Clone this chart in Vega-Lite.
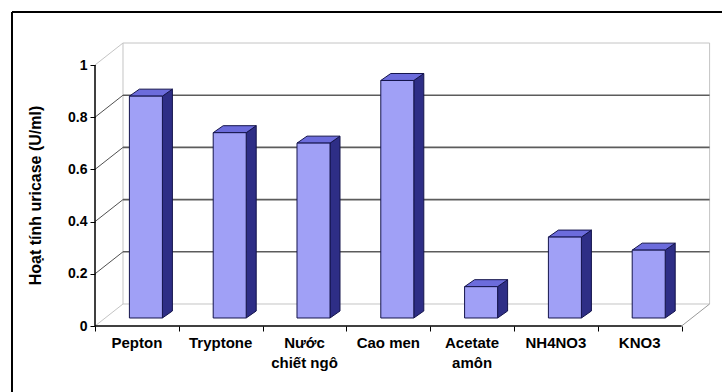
{
  "$schema": "https://vega.github.io/schema/vega-lite/v6.json",
  "width": 631,
  "height": 314,
  "autosize": {"type": "none"},
  "padding": {"left": 95, "top": 12, "right": 0, "bottom": 70},
  "background": "white",
  "config": {
    "view": {"stroke": null},
    "font": "Liberation Sans"
  },
  "datasets": {
    "bars": [
      {"name": "Pepton", "value": 0.85},
      {"name": "Tryptone", "value": 0.71},
      {"name": "Nước\nchiết ngô", "value": 0.67},
      {"name": "Cao men", "value": 0.91},
      {"name": "Acetate\namôn", "value": 0.12},
      {"name": "NH4NO3", "value": 0.31},
      {"name": "KNO3", "value": 0.26}
    ],
    "ticks": [
      {"t": 0}, {"t": 0.2}, {"t": 0.4}, {"t": 0.6}, {"t": 0.8}, {"t": 1}
    ]
  },
  "layer": [
    {
      "data": {"name": "ticks"},
      "transform": [
        {"filter": "datum.t == 0"},
        {"calculate": "-0.1659", "as": "wx0"},
        {"calculate": "6.8341", "as": "wx1"},
        {"calculate": "0.0843", "as": "wy0"},
        {"calculate": "1.0843", "as": "wy1"}
      ],
      "mark": {"type": "rect", "fill": "white", "stroke": "#c4c4c4", "strokeWidth": 1},
      "encoding": {
        "x": {
          "field": "wx0",
          "type": "quantitative",
          "scale": {"domain": [-0.5, 7.0298], "nice": false, "zero": false},
          "axis": {
            "values": [-0.5, 0.5, 1.5, 2.5, 3.5, 4.5, 5.5, 6.5],
            "labels": false,
            "domain": false,
            "grid": false,
            "ticks": true,
            "tickSize": 5,
            "tickColor": "#000000",
            "tickWidth": 1,
            "title": null
          }
        },
        "x2": {"field": "wx1"},
        "y": {
          "field": "wy0",
          "type": "quantitative",
          "scale": {"domain": [0, 1.2031], "nice": false, "zero": false},
          "axis": {
            "values": [0, 0.2, 0.4, 0.6, 0.8, 1],
            "format": ".1~f",
            "domain": false,
            "grid": false,
            "tickSize": 5,
            "tickColor": "#000000",
            "tickWidth": 1,
            "labelFont": "Liberation Sans",
            "labelFontWeight": "bold",
            "labelFontSize": 14,
            "labelColor": "#000000",
            "labelPadding": 3,
            "title": "Hoạt tính uricase (U/ml)",
            "titleFont": "Liberation Sans",
            "titleFontWeight": "bold",
            "titleFontSize": 16,
            "titleColor": "#000000",
            "titleAngle": -90,
            "titleAlign": "center",
            "titleBaseline": "middle",
            "titleX": -60,
            "titleY": 183
          }
        },
        "y2": {"field": "wy1"}
      }
    },
    {
      "data": {"name": "ticks"},
      "transform": [
        {"filter": "datum.t > 0 && datum.t < 1"},
        {"calculate": "datum.t + 0.0843", "as": "wy"},
        {"calculate": "-0.1659", "as": "wx0"},
        {"calculate": "6.8341", "as": "wx1"}
      ],
      "mark": {"type": "rule", "color": "#5c5c5c", "strokeWidth": 1.6},
      "encoding": {
        "x": {"field": "wx0", "type": "quantitative"},
        "x2": {"field": "wx1"},
        "y": {"field": "wy", "type": "quantitative"}
      }
    },
    {
      "data": {"name": "ticks"},
      "transform": [
        {"calculate": "datum.t + 0.0843", "as": "wy"},
        {"calculate": "-0.5", "as": "ax"},
        {"calculate": "-0.1659", "as": "wx0"},
        {"calculate": "datum.t > 0 && datum.t < 1 ? 'inner' : 'edge'", "as": "kind"}
      ],
      "mark": {"type": "rule", "strokeWidth": 1},
      "encoding": {
        "x": {"field": "ax", "type": "quantitative"},
        "x2": {"field": "wx0"},
        "y": {"field": "t", "type": "quantitative"},
        "y2": {"field": "wy"},
        "color": {
          "field": "kind",
          "type": "nominal",
          "scale": {"domain": ["inner", "edge"], "range": ["#505050", "#c4c4c4"]},
          "legend": null
        }
      }
    },
    {
      "data": {"name": "ticks"},
      "transform": [
        {"filter": "datum.t == 0"},
        {"calculate": "6.5", "as": "fx"},
        {"calculate": "6.8341", "as": "bx"},
        {"calculate": "0.0843", "as": "by"}
      ],
      "mark": {"type": "rule", "color": "#9a9a9a", "strokeWidth": 1},
      "encoding": {
        "x": {"field": "fx", "type": "quantitative"},
        "x2": {"field": "bx"},
        "y": {"field": "t", "type": "quantitative"},
        "y2": {"field": "by"}
      }
    },
    {
      "data": {"name": "bars"},
      "transform": [
        {"window": [{"op": "row_number", "as": "n"}]},
        {"calculate": "datum.n - 1 + 0.1074 + 0.197", "as": "fx1"},
        {"calculate": "[0, 1]", "as": "k"},
        {"flatten": ["k"]},
        {"calculate": "datum.fx1 + datum.k * 0.1193", "as": "sx"},
        {"calculate": "datum.value + 0.0307 + datum.k * 0.0268", "as": "sy"},
        {"calculate": "0.0307 + datum.k * 0.0268", "as": "sy2"}
      ],
      "mark": {"type": "area", "fill": "#2e2e86", "stroke": "#14144c", "strokeWidth": 1, "orient": "vertical"},
      "encoding": {
        "x": {"field": "sx", "type": "quantitative"},
        "y": {"field": "sy", "type": "quantitative"},
        "y2": {"field": "sy2"},
        "detail": {"field": "name", "type": "nominal"}
      }
    },
    {
      "data": {"name": "bars"},
      "transform": [
        {"window": [{"op": "row_number", "as": "n"}]},
        {"calculate": "datum.n - 1 + 0.1074 - 0.197", "as": "fx0"},
        {"calculate": "datum.n - 1 + 0.1074 + 0.197", "as": "fx1"},
        {"calculate": "[0, 1]", "as": "k"},
        {"flatten": ["k"]},
        {"calculate": "datum.value + 0.0307 + datum.k * 0.0268", "as": "ty"},
        {"calculate": "datum.fx0 + datum.k * 0.1193", "as": "tx0"},
        {"calculate": "datum.fx1 + datum.k * 0.1193", "as": "tx1"}
      ],
      "mark": {"type": "area", "fill": "#6c6cdc", "stroke": "#14144c", "strokeWidth": 1, "orient": "horizontal"},
      "encoding": {
        "y": {"field": "ty", "type": "quantitative"},
        "x": {"field": "tx0", "type": "quantitative"},
        "x2": {"field": "tx1"},
        "detail": {"field": "name", "type": "nominal"}
      }
    },
    {
      "data": {"name": "bars"},
      "transform": [
        {"window": [{"op": "row_number", "as": "n"}]},
        {"calculate": "datum.n - 1 + 0.1074 - 0.197", "as": "fx0"},
        {"calculate": "datum.n - 1 + 0.1074 + 0.197", "as": "fx1"},
        {"calculate": "0.0307", "as": "fy0"},
        {"calculate": "datum.value + 0.0307", "as": "fy1"}
      ],
      "mark": {"type": "rect", "fill": "#a0a0f6", "stroke": "#14144c", "strokeWidth": 1},
      "encoding": {
        "x": {"field": "fx0", "type": "quantitative"},
        "x2": {"field": "fx1"},
        "y": {"field": "fy0", "type": "quantitative"},
        "y2": {"field": "fy1"}
      }
    },
    {
      "data": {"name": "ticks"},
      "transform": [
        {"filter": "datum.t == 0"},
        {"calculate": "-0.5", "as": "ax"},
        {"calculate": "1", "as": "top"}
      ],
      "mark": {"type": "rule", "color": "#000000", "strokeWidth": 1.5},
      "encoding": {
        "x": {"field": "ax", "type": "quantitative"},
        "y": {"field": "t", "type": "quantitative"},
        "y2": {"field": "top"}
      }
    },
    {
      "data": {"name": "ticks"},
      "transform": [
        {"filter": "datum.t == 0"},
        {"calculate": "-0.5", "as": "ax0"},
        {"calculate": "6.5", "as": "ax1"}
      ],
      "mark": {"type": "rule", "color": "#000000", "strokeWidth": 1.5},
      "encoding": {
        "x": {"field": "ax0", "type": "quantitative"},
        "x2": {"field": "ax1"},
        "y": {"field": "t", "type": "quantitative"}
      }
    },
    {
      "data": {"name": "ticks"},
      "transform": [
        {"filter": "datum.t == 0"},
        {"calculate": "-1.4905", "as": "fx"},
        {"calculate": "7.2", "as": "fx2"},
        {"calculate": "-0.3", "as": "fy"},
        {"calculate": "1.2031", "as": "fy2"}
      ],
      "mark": {"type": "rule", "color": "#000000", "strokeWidth": 2},
      "encoding": {
        "x": {"field": "fx", "type": "quantitative"},
        "y": {"field": "fy", "type": "quantitative"},
        "y2": {"field": "fy2"}
      }
    },
    {
      "data": {"name": "ticks"},
      "transform": [
        {"filter": "datum.t == 0"},
        {"calculate": "-1.4905", "as": "fx"},
        {"calculate": "7.2", "as": "fx2"},
        {"calculate": "1.2031", "as": "fy2"}
      ],
      "mark": {"type": "rule", "color": "#000000", "strokeWidth": 2},
      "encoding": {
        "x": {"field": "fx", "type": "quantitative"},
        "x2": {"field": "fx2"},
        "y": {"field": "fy2", "type": "quantitative"}
      }
    },
    {
      "data": {"name": "bars"},
      "transform": [
        {"window": [{"op": "row_number", "as": "n"}]},
        {"calculate": "datum.n - 1", "as": "idx"},
        {"calculate": "-0.038", "as": "ly"}
      ],
      "mark": {
        "type": "text",
        "font": "Liberation Sans",
        "fontWeight": "bold",
        "fontSize": 15,
        "color": "#000000",
        "align": "center",
        "baseline": "top",
        "lineBreak": "\n",
        "lineHeight": 20
      },
      "encoding": {
        "x": {"field": "idx", "type": "quantitative"},
        "y": {"field": "ly", "type": "quantitative"},
        "text": {"field": "name", "type": "nominal"}
      }
    }
  ]
}
